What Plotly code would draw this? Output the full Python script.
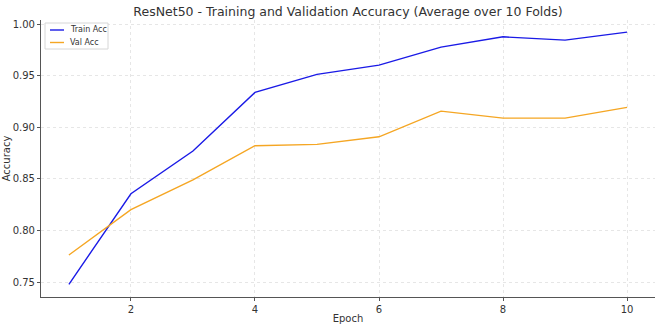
import plotly.graph_objects as go

epochs = [1, 2, 3, 4, 5, 6, 7, 8, 9, 10]
train_acc = [0.7478, 0.8356, 0.877, 0.9338, 0.9513, 0.9603, 0.9777, 0.9877, 0.9845, 0.9922]
val_acc = [0.7762, 0.8201, 0.849, 0.8821, 0.8834, 0.8908, 0.9157, 0.9089, 0.9089, 0.9193]
x_ticks = [2, 4, 6, 8, 10]
y_ticks = [0.75, 0.80, 0.85, 0.90, 0.95, 1.00]
series_names = ["Train Acc", "Val Acc"]
series_colors = ["#1a1ae6", "#f5a623"]

fnt = "DejaVu Sans, Arial, sans-serif"

fig = go.Figure()
for name, vals, col in zip(series_names, [train_acc, val_acc], series_colors):
    fig.add_trace(go.Scatter(x=epochs, y=vals, mode="lines", name=name,
                             line=dict(color=col, width=1.4), showlegend=False))

# Legend drawn in pixel-like paper coordinates (plot area: x 41..655, y 20..297)
W, H = 614.0, 277.0
def px(x):
    return (x - 41) / W
def py(y):
    return 1 - (y - 20) / H

fig.add_shape(type="rect", xref="paper", yref="paper",
              x0=px(45), x1=px(108), y0=py(49), y1=py(23),
              line=dict(color="#d6d6d6", width=1), fillcolor="rgba(255,255,255,0.9)")
for i, (name, col) in enumerate(zip(series_names, series_colors)):
    yc = 30 + i * 12.5
    fig.add_shape(type="line", xref="paper", yref="paper",
                  x0=px(50), x1=px(64), y0=py(yc), y1=py(yc),
                  line=dict(color=col, width=1.4))
    fig.add_annotation(xref="paper", yref="paper", x=px(68), y=py(yc),
                       text=name, showarrow=False, xanchor="left", yanchor="middle",
                       font=dict(size=8, color="#333333", family=fnt))

fig.update_layout(
    width=661, height=325,
    margin=dict(l=41, r=6, t=20, b=28),
    paper_bgcolor="white", plot_bgcolor="white",
    font=dict(family=fnt, size=10, color="#333333"),
    title=dict(text="ResNet50 - Training and Validation Accuracy (Average over 10 Folds)",
               x=0.5, xref="paper", xanchor="center", y=0.965, yanchor="middle",
               font=dict(size=12.5, color="#333333")),
    showlegend=False,
)
fig.update_xaxes(
    range=[0.55, 10.45], tickvals=x_ticks, ticktext=[str(v) for v in x_ticks],
    showgrid=True, gridcolor="#e6e6e6", griddash="dot", gridwidth=1,
    showline=True, linecolor="#555555", linewidth=1.2,
    ticks="outside", ticklen=3, tickcolor="#555555",
    zeroline=False, automargin=False,
    title=dict(text="Epoch", font=dict(size=10), standoff=0),
    tickfont=dict(size=10),
)
fig.update_yaxes(
    range=[0.7355, 1.004], tickvals=y_ticks, ticktext=[f"{v:.2f}" for v in y_ticks],
    showgrid=True, gridcolor="#e6e6e6", griddash="dot", gridwidth=1,
    showline=True, linecolor="#555555", linewidth=1.2,
    ticks="outside", ticklen=3, tickcolor="#555555",
    zeroline=False, automargin=False,
    title=dict(text="Accuracy", font=dict(size=10), standoff=0),
    tickfont=dict(size=10),
)

fig.write_html("out.html")
